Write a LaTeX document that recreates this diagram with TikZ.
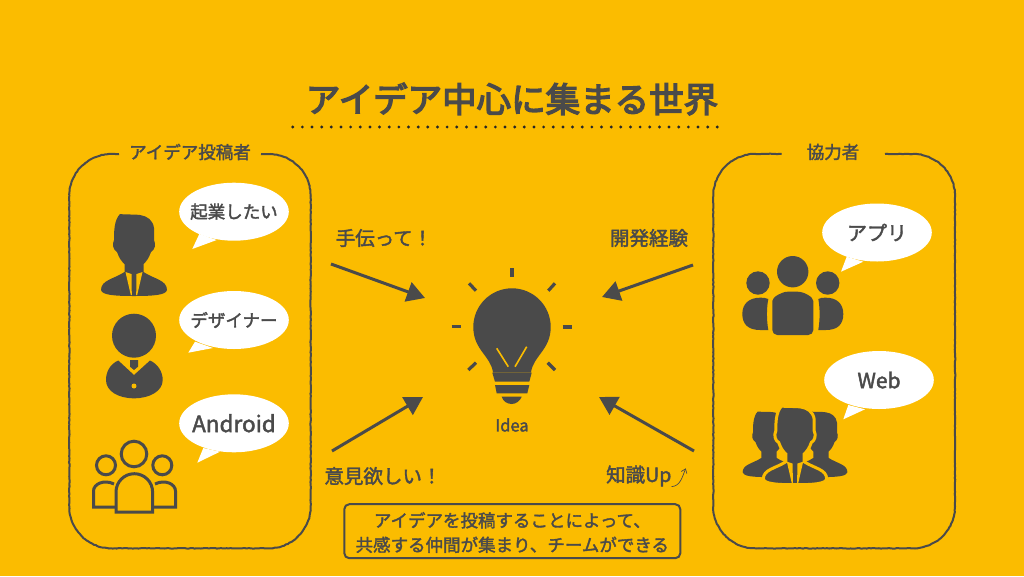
\documentclass[tikz,border=0pt]{standalone}
\usepackage{fontspec}
\setmainfont{Noto Sans CJK JP}[FakeBold=2]
\newfontfamily\titlefont{Noto Sans CJK JP}[FakeBold=4]
\usetikzlibrary{arrows.meta,decorations.pathmorphing}
\definecolor{bgyellow}{HTML}{FBBC00}
\definecolor{inkgray}{HTML}{4A4A4A}
\newcommand{\manpath}{(-14,0) .. controls (-6,1) and (0,0) .. (6,1) .. controls (13,2) and (19,6) .. (20,14)
      -- (20,26) .. controls (22,30) and (21,36) .. (17,38) .. controls (15,44) and (12,48) .. (9.5,50) -- (9.5,58)
      .. controls (20,65) and (33,66) .. (33,76) .. controls (32,81) and (20,82) .. (0,82)
      .. controls (-20,82) and (-32,81) .. (-33,76) .. controls (-33,66) and (-20,65) .. (-9.5,58) -- (-9.5,50)
      .. controls (-12,48) and (-15,44) .. (-17,38) .. controls (-21,36) and (-22,30) .. (-20,26)
      .. controls (-20,18) and (-20,6) .. (-14,0) -- cycle}
\tikzset{
  lab/.style={text=inkgray,inner sep=0pt,font=\fontsize{19.5}{25}\selectfont},
  small lab/.style={lab,font=\fontsize{17.5}{24.5}\selectfont},
  bubble/.style={text=inkgray,inner sep=0pt,font=\fontsize{17.5}{20}\selectfont},
  framebox/.style={draw=inkgray,line width=2pt,decorate,decoration={random steps,segment length=2pt,amplitude=.3pt}},
  idea arrow/.style={draw=inkgray,line width=3pt,-{Triangle[length=18pt,width=20pt]}},
  ray/.style={draw=inkgray,line width=3.2pt},
  plainman/.pic={
    \path[pic actions] \manpath;
  },
  suitman/.pic={
    \path[pic actions] \manpath;
    \fill[bgyellow] (-8.5,58) -- (-2.5,60) -- (-2.2,81) -- (-3.2,81) -- cycle;
    \fill[bgyellow] (8.5,58) -- (2.5,60) -- (2.2,81) -- (3.2,81) -- cycle;
  }
}
\begin{document}
\begin{tikzpicture}[x=1pt,y=-1pt]

\fill[bgyellow] (0,0) rectangle (1024,576);
\useasboundingbox (0,0) rectangle (1024,576);

% title
\node[lab,font=\fontsize{34.5}{40}\titlefont] (title) at (512,99) {アイデア中心に集まる世界};
\draw[black!85,line width=3.2pt,line cap=round,dash pattern=on 0pt off 9.65pt] (292.7,127) -- (726,127);

% frames
\node[small lab] (postlab) at (190,152) {アイデア投稿者};
\node[small lab] (helplab) at (833,152) {協力者};
\draw[framebox] (261,154) -- (268.7,154) arc (270:360:42) -- (310.7,506.3) arc (0:90:42) -- (111.3,548.3) arc (90:180:42) -- (69.3,196) arc (180:270:42) -- (119,154);
\draw[framebox] (885,154) -- (913,154) arc (270:360:42) -- (955,506.3) arc (0:90:42) -- (755.3,548.3) arc (90:180:42) -- (713.3,196) arc (180:270:42) -- (781.7,154);

% speech bubbles
\foreach \nm/\cx/\cy/\lab/\ax/\ay/\tx/\ty/\bx/\by in {
  wish/234/211.7/起業したい/199.3/234/192.3/249/216.7/240,
  design/234/320/デザイナー/195/341.7/188.3/352.7/213/348,
  android/234/423.3/\fontsize{22.5}{24}\selectfont Android/203.3/448/197.3/462.7/220/451.7,
  app/877/232.5/\fontsize{20}{24}\selectfont アプリ/846.7/256.7/841/271.7/863.3/261.7,
  web/879/380/\fontsize{21}{24}\selectfont Web/848.3/405/843.3/419.3/865/409.3} {
  \fill[white] (\ax,\ay) -- (\tx,\ty) -- (\bx,\by) -- cycle;
  \fill[white] (\cx,\cy) ellipse (54.8 and 29);
  \node[bubble] (\nm) at (\cx,\cy) {\lab};
}

% left people
\pic[fill=inkgray] at (134,214) {suitman};
\fill[inkgray] (134,335.7) circle (22);
\fill[inkgray] (118.3,360.5) -- (134,375) -- (150,360.5) .. controls (158,364) and (162.7,372) .. (162.7,380)
  .. controls (162.7,391) and (150,398.3) .. (134,398.3) .. controls (118,398.3) and (106,391) .. (106,380)
  .. controls (106,372) and (110,364) .. (118.3,360.5) -- cycle;
\fill[inkgray] (130,360) -- (138,360) -- (138,366.7) -- (134,370) -- (130,366.7) -- cycle;
\fill[bgyellow] (134,386) circle (2.5);

\begin{scope}[draw=inkgray,line width=3pt]
\draw (134,454) circle (12.8);
\draw (106,465.3) circle (9.5);
\draw (162.3,465.3) circle (9.5);
\draw (116,512) -- (116,492) arc (180:360:18.3) -- (152.7,512) -- cycle;
\draw (116,507) -- (93.5,507) -- (93.5,491) .. controls (93.5,484) and (104,479) .. (114,484);
\draw (152.7,507) -- (175.5,507) -- (175.5,491) .. controls (175.5,484) and (165,479) .. (155,484);
\end{scope}

% right people
\fill[inkgray] (792.7,271.7) circle (15.7);
\fill[inkgray] (758,283) circle (11.7);
\fill[inkgray] (827.7,283) circle (11.7);
\fill[inkgray,rounded corners=5pt] (772.3,335) -- (772.3,306) .. controls (772.3,297) and (782,291.7) .. (792.7,291.7)
  .. controls (804,291.7) and (813.3,297) .. (813.3,306) -- (813.3,335) -- cycle;
\fill[inkgray] (768.3,330) -- (760,330) .. controls (748,330) and (742.3,324) .. (742.3,314)
  .. controls (742.3,303) and (750,297.7) .. (760,297.7) .. controls (764,297.7) and (766,298) .. (768.3,299) .. controls (766.5,308) and (766.5,320) .. (768.3,330) -- cycle;
\fill[inkgray] (818.3,330) -- (826,330) .. controls (838,330) and (843.3,324) .. (843.3,314)
  .. controls (843.3,303) and (836,297.7) .. (826,297.7) .. controls (822,297.7) and (820,298) .. (818.3,299) .. controls (820,308) and (820,320) .. (818.3,330) -- cycle;

\pic[fill=inkgray,scale=.8] at (769,411.5) {plainman};
\pic[fill=inkgray,scale=.8] at (821,411.5) {plainman};
\pic[fill=inkgray,draw=bgyellow,line width=3pt,scale=.96] at (795,406) {suitman};

% bulb
\fill[inkgray] (493,372.5) .. controls (491,356) and (473.3,350) .. (473.3,327) arc (180:360:38.7)
  .. controls (550.7,350) and (533,356) .. (531,372.5) -- cycle;
\draw[bgyellow,line width=1.6pt] (496.7,348.3) -- (508.3,366.7);
\draw[bgyellow,line width=1.6pt] (526.7,346.7) -- (515,366.7);
\fill[inkgray] (492.3,372.7) -- (531.7,372.7) -- (529.3,381.7) -- (495,381.7) -- cycle;
\fill[inkgray] (495,385) -- (529.3,385) -- (527.3,393.3) -- (496.7,393.3) -- cycle;
\fill[inkgray] (501.7,396.7) -- (521.7,396.7) .. controls (520,401) and (516,404) .. (511.7,404) .. controls (507,404) and (503,401) .. (501.7,396.7) -- cycle;
\foreach \ax/\ay/\bx/\by in {512/268.3/512/277.3,469/283.3/476/290.7,555/283.3/548.3/290.7,451.7/326.7/460.7/326.7,
  562.7/327/572.3/327,476/362.7/468.3/370,547.7/362.7/555/370}
  \draw[ray] (\ax,\ay) -- (\bx,\by);
\node[lab,font=\fontsize{16.5}{18}\selectfont] (idea) at (512,425) {Idea};

% arrows
\coordinate (tlstart) at (331,264);
\coordinate (tlend) at (425,298);
\coordinate (trstart) at (693,265);
\coordinate (trend) at (602,297);
\coordinate (blstart) at (332,451);
\coordinate (blend) at (423,397);
\coordinate (brstart) at (694,451);
\coordinate (brend) at (599,397);
\draw[idea arrow] (tlstart) -- (tlend);
\draw[idea arrow] (trstart) -- (trend);
\draw[idea arrow] (blstart) -- (blend);
\draw[idea arrow] (brstart) -- (brend);

% arrow labels
\node[lab] (helpme) at (384,238) {手伝って！};
\node[lab] (career) at (649,238) {開発経験};
\node[lab] (opinion) at (383,476) {意見欲しい！};
\node[lab,anchor=west] (skill) at (606,476) {知識Up};
\coordinate (upend) at (685.7,468.3);
\draw[inkgray,line width=.7pt,-{Straight Barb[length=4pt,width=6pt]}] (skill.south east) .. controls (680,486) and (682,478) .. (upend);

% note
\node[draw=inkgray,line width=2pt,rounded corners=5pt,minimum width=336pt,minimum height=54pt] (note) at (512.3,531.2) {};
\node[small lab,align=center] (notetext) at (512.3,532.5)
  {アイデアを投稿することによって、\\共感する仲間が集まり、チームができる};

\end{tikzpicture}
\end{document}
